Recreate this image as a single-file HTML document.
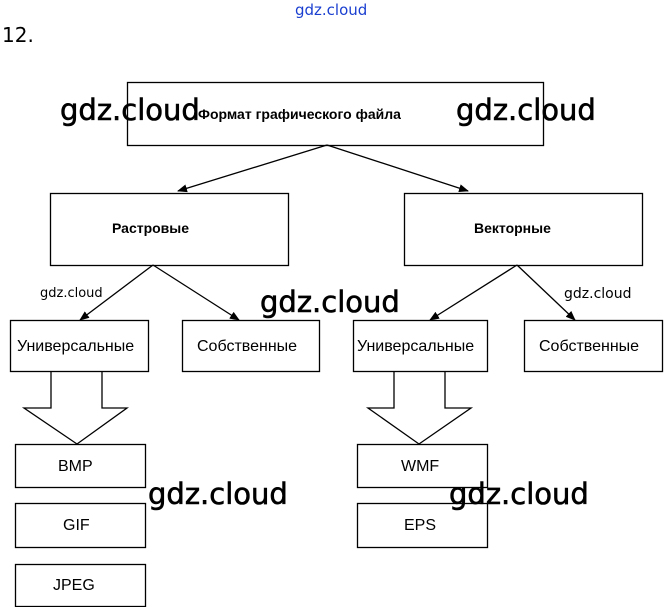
<!DOCTYPE html>
<html><head><meta charset="utf-8"><style>
body{margin:0;width:665px;height:607px;background:#fff;overflow:hidden;position:relative;font-family:"Liberation Sans",sans-serif}
.t{position:absolute;white-space:nowrap}
.w{position:absolute;font-family:"DejaVu Sans","Liberation Sans",sans-serif;color:#000;white-space:nowrap;line-height:1}
.b{-webkit-text-stroke:0.6px #000}
</style></head><body>
<svg width="665" height="607" style="position:absolute;left:0;top:0">
<defs><marker id="a" markerWidth="10" markerHeight="8" refX="9" refY="4" orient="auto" markerUnits="userSpaceOnUse"><path d="M0,0 L10,4 L0,8z" fill="#000"/></marker></defs>
<g fill="none" stroke="#000" stroke-width="1.3">
<rect x="127.5" y="82.5" width="416" height="63"/>
<rect x="50.5" y="193.5" width="238" height="72"/>
<rect x="404.5" y="193.5" width="238" height="72"/>
<rect x="10.5" y="320.5" width="138" height="51"/>
<rect x="182.5" y="320.5" width="137" height="51"/>
<rect x="353.5" y="320.5" width="134" height="51"/>
<rect x="524.5" y="320.5" width="138" height="51"/>
<rect x="15.5" y="444.5" width="130" height="43"/>
<rect x="15.5" y="503.5" width="130" height="44"/>
<rect x="15.5" y="564.5" width="130" height="42"/>
<rect x="357.5" y="444.5" width="130" height="43"/>
<rect x="357.5" y="503.5" width="130" height="44"/>
<path d="M51,371 V408 H24 L77,444 L127,408 H102 V371"/>
<path d="M394,371 V408 H368 L419,444 L471,408 H445 V371"/>
<line x1="327" y1="145" x2="178" y2="191" marker-end="url(#a)"/>
<line x1="327" y1="145" x2="468" y2="191" marker-end="url(#a)"/>
<line x1="153" y1="265" x2="80" y2="320" marker-end="url(#a)"/>
<line x1="153" y1="265" x2="239" y2="320" marker-end="url(#a)"/>
<line x1="517" y1="265" x2="430" y2="320" marker-end="url(#a)"/>
<line x1="517" y1="265" x2="575" y2="320" marker-end="url(#a)"/>
</g></svg>
<div class="t" style="left:198px;top:106px;font-size:14px;font-weight:bold">Формат графического файла</div>
<div class="t" style="left:112px;top:220px;font-size:14px;font-weight:bold">Растровые</div>
<div class="t" style="left:474px;top:220px;font-size:14px;font-weight:bold">Векторные</div>
<div class="t" style="left:17px;top:338px;font-size:16px">Универсальные</div>
<div class="t" style="left:197px;top:338px;font-size:16px">Собственные</div>
<div class="t" style="left:357px;top:338px;font-size:16px">Универсальные</div>
<div class="t" style="left:539px;top:338px;font-size:16px">Собственные</div>
<div class="t" style="left:58px;top:458px;font-size:16px">BMP</div>
<div class="t" style="left:63px;top:517px;font-size:16px">GIF</div>
<div class="t" style="left:53px;top:577px;font-size:16px">JPEG</div>
<div class="t" style="left:401px;top:458px;font-size:16px">WMF</div>
<div class="t" style="left:404px;top:517px;font-size:16px">EPS</div>
<div class="w" style="left:295px;top:3px;font-size:15px;color:#1a3fd0">gdz.cloud</div>
<div class="w" style="left:2px;top:25px;font-size:20px">12.</div>
<div class="w b" style="left:60px;top:96px;font-size:29px">gdz.cloud</div>
<div class="w b" style="left:456px;top:96px;font-size:29px">gdz.cloud</div>
<div class="w b" style="left:260px;top:288px;font-size:29px">gdz.cloud</div>
<div class="w b" style="left:148px;top:480px;font-size:29px">gdz.cloud</div>
<div class="w b" style="left:449px;top:480px;font-size:29px">gdz.cloud</div>
<div class="w" style="left:40px;top:287px;font-size:13px">gdz.cloud</div>
<div class="w" style="left:564px;top:287px;font-size:14px">gdz.cloud</div>
</body></html>
